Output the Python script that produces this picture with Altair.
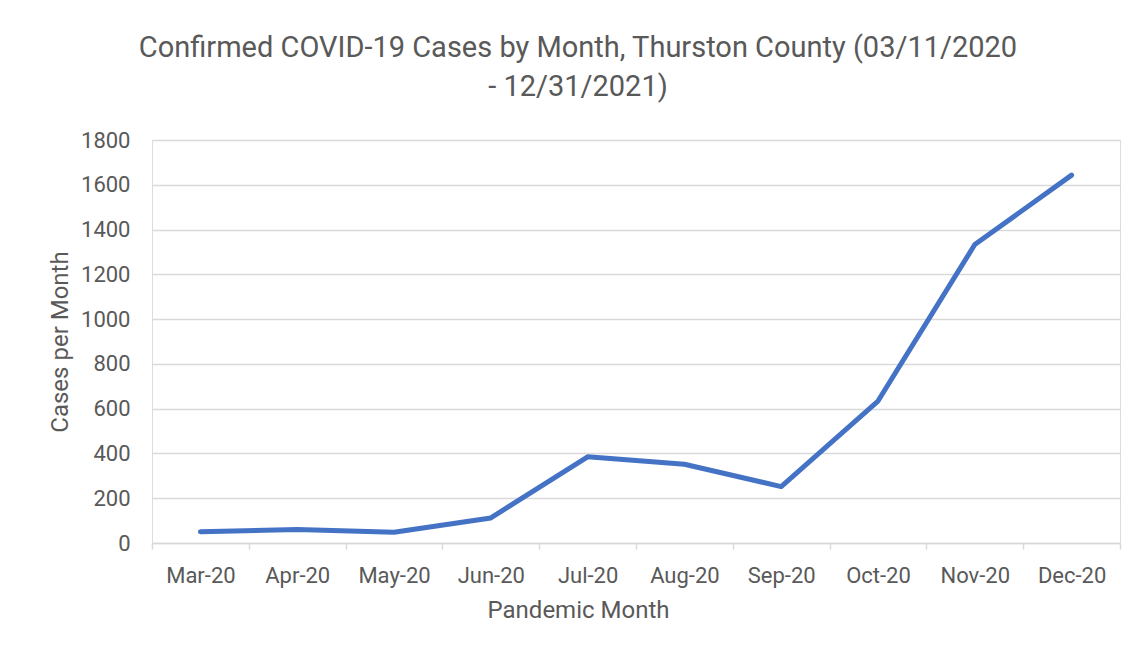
import altair as alt
import pandas as pd

months = ["Mar-20", "Apr-20", "May-20", "Jun-20", "Jul-20", "Aug-20",
          "Sep-20", "Oct-20", "Nov-20", "Dec-20"]
cases = [50, 60, 48, 112, 385, 352, 252, 634, 1333, 1643]
y_ticks = [0, 200, 400, 600, 800, 1000, 1200, 1400, 1600, 1800]

df = pd.DataFrame({"month": months, "cases": cases})

TEXT = "#595959"
GRID = "#d9d9d9"
FONT = "Roboto"

chart = alt.Chart(df).mark_line(
    color="#4472C4", strokeWidth=5, strokeCap="round", strokeJoin="round"
).encode(
    x=alt.X(
        "month:N",
        sort=months,
        bandPosition=0.5,
        scale=alt.Scale(type="band", paddingInner=0, paddingOuter=0),
        axis=alt.Axis(
            title="Pandemic Month",
            labelAngle=0,
            tickBand="extent",
            tickSize=6,
            tickColor=GRID,
            tickWidth=1.5,
            domainColor=GRID,
            domainWidth=1.5,
            grid=False,
            labelFont=FONT,
            labelFontSize=22,
            labelColor=TEXT,
            labelBaseline="alphabetic",
            labelPadding=33,
            titleFont=FONT,
            titleFontSize=24,
            titleFontWeight="normal",
            titleColor=TEXT,
            titleBaseline="alphabetic",
            titleAlign="center",
            titleX=426,
            titleY=74,
        ),
    ),
    y=alt.Y(
        "cases:Q",
        scale=alt.Scale(domain=[0, 1800], nice=False),
        axis=alt.Axis(
            title="Cases per Month",
            values=y_ticks,
            format="d",
            ticks=False,
            domain=False,
            grid=True,
            gridColor=GRID,
            gridWidth=1.5,
            labelFont=FONT,
            labelFontSize=22,
            labelColor=TEXT,
            labelPadding=22,
            titleFont=FONT,
            titleFontSize=24,
            titleFontWeight="normal",
            titleColor=TEXT,
            titlePadding=8,
        ),
    ),
).properties(
    width=968,
    height=403,
    title=alt.TitleParams(
        text=["Confirmed COVID-19 Cases by Month, Thurston County (03/11/2020",
              "- 12/31/2021)"],
        font=FONT,
        fontSize=29,
        fontWeight="normal",
        color=TEXT,
        anchor="middle",
        frame="group",
        dx=-58,
        lineHeight=39,
        offset=27,
    ),
    autosize=alt.AutoSizeParams(type="none"),
    padding={"left": 144, "top": 132, "right": 10, "bottom": 100},
).configure_view(stroke=None).configure(background="white")

chart.save("out.html", embed_options={"renderer": "svg", "actions": False})
